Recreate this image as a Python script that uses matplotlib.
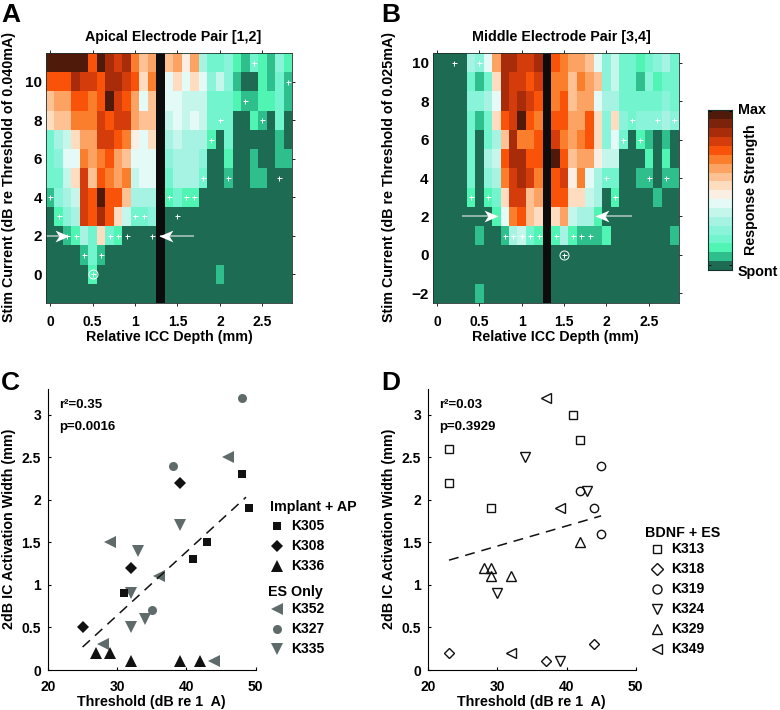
import numpy as np
import matplotlib
matplotlib.use('Agg')
import matplotlib.pyplot as plt
from matplotlib.colors import ListedColormap, BoundaryNorm
from matplotlib.lines import Line2D
from matplotlib.path import Path

plt.rcParams['font.family'] = ['Liberation Sans', 'DejaVu Sans']
plt.rcParams['font.weight'] = 'bold'

W, H = 780, 710

# response level per cell, top row first, column 13 sits under the electrode bar
heat_a = [
    [17,17,17,17,17,13,17,15,14,15,12,10,11,0,10,11,8,11,5,3,3,4,2,1,3,2,1,4,2],
    [13,13,13,15,14,14,13,15,15,14,13,9,12,0,7,9,7,9,7,4,6,4,1,0,0,2,1,3,1],
    [10,11,11,13,13,12,13,17,14,13,11,7,10,0,7,7,6,6,6,3,3,3,2,1,1,2,2,3,1],
    [9,10,10,12,12,12,14,13,14,14,11,10,10,0,6,7,6,7,6,3,3,3,0,0,2,1,0,3,0],
    [3,5,6,9,11,11,14,14,13,12,8,7,9,0,5,6,5,5,5,2,0,3,0,0,0,0,0,1,0],
    [3,4,7,7,12,11,12,13,11,10,7,7,7,0,4,5,5,5,4,0,0,2,0,0,1,0,0,1,1],
    [3,3,6,9,14,10,13,12,11,12,6,7,7,0,3,5,5,5,3,0,0,1,0,0,1,1,0,0,0],
    [1,4,5,6,14,13,17,13,13,10,5,5,5,0,2,3,2,2,0,0,0,0,0,0,0,0,0,0,0],
    [0,2,4,5,14,13,15,13,9,6,3,3,4,0,0,0,0,0,0,0,0,0,0,0,0,0,0,0,0],
    [0,0,1,2,5,3,9,3,2,0,0,0,0,0,0,0,0,0,0,0,0,0,0,0,0,0,0,0,0],
    [0,0,0,0,1,3,1,0,0,0,0,0,0,0,0,0,0,0,0,0,0,0,0,0,0,0,0,0,0],
    [0,0,0,0,0,2,0,0,0,0,0,0,0,0,0,0,0,0,0,0,1,0,0,0,0,0,0,0,0],
    [0,0,0,0,0,0,0,0,0,0,0,0,0,0,0,0,0,0,0,0,0,0,0,0,0,0,0,0,0],
]
heat_b = [
    [0,0,0,0,5,4,7,11,15,15,14,14,15,0,13,12,11,11,10,7,4,6,3,3,2,3,4,5,3],
    [0,0,0,0,3,1,3,9,15,14,14,13,14,0,12,12,10,12,11,10,4,6,3,3,1,4,2,3,3],
    [0,0,0,0,4,4,5,7,15,14,15,14,13,0,12,13,10,11,11,7,5,5,3,3,3,3,3,4,3],
    [0,0,0,0,3,1,3,9,13,14,17,13,12,0,13,13,11,11,13,9,4,9,4,3,4,4,4,5,4],
    [0,0,0,0,3,0,3,5,10,15,12,12,13,0,14,12,11,12,13,9,4,7,3,0,2,1,0,1,0],
    [0,0,0,0,3,0,5,6,13,15,15,13,13,0,17,13,10,11,11,8,6,6,0,0,0,2,0,2,0],
    [0,0,0,0,3,0,4,5,12,14,15,14,12,0,13,14,8,12,7,5,3,3,0,0,1,1,0,1,1],
    [0,0,0,0,2,0,2,3,9,14,14,10,11,0,13,13,9,9,6,5,0,2,0,0,0,0,1,0,0],
    [0,0,0,0,0,0,0,2,7,12,13,10,9,0,9,11,6,5,5,2,0,0,0,0,0,0,0,0,0],
    [0,0,0,0,0,1,0,0,1,5,6,3,2,0,2,5,2,1,1,1,2,0,0,0,0,0,0,0,1],
    [0,0,0,0,0,0,0,0,0,0,0,0,0,0,0,0,0,0,0,0,0,0,0,0,0,0,0,0,0],
    [0,0,0,0,0,0,0,0,0,0,0,0,0,0,0,0,0,0,0,0,0,0,0,0,0,0,0,0,0],
    [0,0,0,0,0,1,0,0,0,0,0,0,0,0,0,0,0,0,0,0,0,0,0,0,0,0,0,0,0],
]
rows_a = [11,10,9,8,7,6,5,4,3,2,1,0,-1]
rows_b = [10,9,8,7,6,5,4,3,2,1,0,-1,-2]

plus_a_x = [2.4,2.8,2.3,2.0,2.5,1.9,1.8,2.1,2.7,0,1.4,1.6,1.7,0.1,1.0,1.1,1.5,0.2,0.3,0.7,0.8,0.9,1.2,0.4,0.6,0.5]
plus_a_y = [11,10,9,8,8,7,5,5,5,4,4,4,4,3,3,3,3,2,2,2,2,2,2,1,1,0]
plus_b_x = [0.2,0.5,2.3,2.6,2.8,2.2,2.4,2.0,2.5,2.7,0.4,0.6,2.1,0.8,0.9,1.0,1.1,1.2,1.4,1.6,1.7,1.8,1.5]
plus_b_y = [10,10,7,7,7,6,6,4,4,4,3,3,3,1,1,1,1,1,1,1,1,1,0]

level_colors = ['#1c6b52','#2fbf8c','#50f5b4','#72f5cf','#8af4da','#a6f3e3','#c4f6ec','#e4faf6',
                '#fbeee2','#fedcbf','#fdc193','#fca363','#fb7e2c','#f9530a','#d43c0c','#a82c0a',
                '#7d230a','#4f1a0a']

k305_x, k305_y = [31,41,43,48,49], [0.9,1.3,1.5,2.3,1.9]
k308_x, k308_y = [25,32,39], [0.5,1.2,2.2]
k336_x, k336_y = [27,29,32,39,42], [0.2,0.2,0.1,0.1,0.1]
k352_x, k352_y = [29,36,46,28,44], [1.5,1.1,2.5,0.3,0.1]
k327_x, k327_y = [48,38,35], [3.2,2.4,0.7]
k335_x, k335_y = [39,33,32,32,34], [1.7,1.4,0.9,0.5,0.6]
fit_c_x, fit_c_y = [25,48.6], [0.27,2.03]

k313_x, k313_y = [23,23,29,41,42], [2.6,2.2,1.9,3.0,2.7]
k318_x, k318_y = [23,37,44], [0.2,0.1,0.3]
k319_x, k319_y = [45,42,44,45], [2.4,2.1,1.9,1.6]
k324_x, k324_y = [34,43,30,39], [2.5,2.1,0.9,0.1]
k329_x, k329_y = [42,28,29,29,32], [1.5,1.2,1.2,1.1,1.1]
k349_x, k349_y = [37,39,32], [3.2,1.9,0.2]
fit_d_x, fit_d_y = [23,45], [1.29,1.81]

GRAY = '#5f6b6b'
BLACK = '#111111'
TICK = 10
LABEL = 10.3

fig = plt.figure(figsize=(W / 100, H / 100), dpi=100)


def box(x0, y0, x1, y1):
    # pixel box in the picture (y from the top) to figure fractions
    return [x0 / W, 1 - y1 / H, (x1 - x0) / W, (y1 - y0) / H]


def ftext(x, y, s, **kw):
    kw.setdefault('va', 'center')
    kw.setdefault('ha', 'left')
    kw.setdefault('fontsize', LABEL)
    fig.text(x / W, 1 - y / H, s, **kw)


cmap = ListedColormap(level_colors)
norm = BoundaryNorm(np.arange(-0.5, 18.5), cmap.N)
head_r = Path([(-1, 0.85), (1, 0), (-1, -0.85), (-0.45, 0), (-1, 0.85)])
head_l = Path([(1, 0.85), (-1, 0), (1, -0.85), (0.45, 0), (1, 0.85)])


def heatmap(pos, data, rows, px, py, yticks, arrows, circ):
    ax = fig.add_axes(box(*pos))
    ax.pcolormesh(np.arange(-0.05, 2.86, 0.1), np.arange(rows[-1] - 0.5, rows[0] + 1), np.array(data)[::-1],
                  cmap=cmap, norm=norm)
    ax.axvspan(1.25, 1.35, color='#0c0c0c', lw=0)
    ax.plot(px, py, '+', color='white', ms=3.6, mew=0.7)
    ax.plot(circ[0], circ[1], 'o', mfc='none', mec='white', ms=6.5, mew=0.7)
    for tail, tip, y in arrows:
        ax.plot([tail, tip], [y, y], color='#b5c8c0', lw=1.1, solid_capstyle='butt')
        ax.plot(tip - 0.08 if tip > tail else tip + 0.08, y, marker=head_r if tip > tail else head_l,
                color='white', ms=10, mew=0)
    ax.set_xlim(-0.05, 2.85)
    ax.set_ylim(rows[-1] - 0.5, rows[0] + 0.5)
    ax.set_xticks([0, 0.5, 1, 1.5, 2, 2.5])
    ax.set_xticklabels(['0', '0.5', '1', '1.5', '2', '2.5'])
    ax.set_yticks(yticks)
    ax.set_yticklabels([str(t).replace('-', '\u2212') for t in yticks])
    ax.tick_params(axis='x', top=True, length=2, width=0.6, labelsize=TICK, pad=7)
    ax.tick_params(axis='y', right=True, left=False, length=2, width=0.6, labelsize=11, pad=1)
    for s in ax.spines.values():
        s.set_linewidth(0.6)
        s.set_color('#20302a')
    return ax


heatmap((46, 53, 292, 303), heat_a, rows_a, plus_a_x, plus_a_y, [0, 2, 4, 6, 8, 10],
        [(-0.05, 0.215, 2), (1.69, 1.29, 2)], (0.5, 0))
heatmap((432.7, 53, 678.5, 303), heat_b, rows_b, plus_b_x, plus_b_y, [-2, 0, 2, 4, 6, 8, 10],
        [(0.3, 0.72, 2), (2.3, 1.87, 2)], (1.5, 0))

ftext(173, 37, 'Apical Electrode Pair [1,2]', ha='center')
ftext(561, 37, 'Middle Electrode Pair [3,4]', ha='center')
ftext(169, 337, 'Relative ICC Depth (mm)', ha='center')
ftext(555, 337, 'Relative ICC Depth (mm)', ha='center')
ftext(9, 177, 'Stim Current (dB re Threshold of 0.040mA)', ha='center', rotation=90)
ftext(389, 177, 'Stim Current (dB re Threshold of 0.025mA)', ha='center', rotation=90)

for x, y, s in [(1, 15, 'A'), (381, 15, 'B'), (1, 383, 'C'), (381, 383, 'D')]:
    ftext(x, y, s, fontsize=19)

# colour scale
cax = fig.add_axes(box(708, 110.5, 732, 270))
cax.pcolormesh([0, 1], np.arange(-0.5, 18.5), np.arange(18).reshape(-1, 1), cmap=cmap, norm=norm)
cax.set_xticks([])
cax.set_yticks([0.1, 17.4])
cax.set_yticklabels([])
cax.tick_params(axis='y', direction='in', left=True, right=True, length=2, width=0.6)
for s in cax.spines.values():
    s.set_linewidth(0.8)
    s.set_color('#15302a')
ftext(738, 110, 'Max')
ftext(738, 272, 'Spont')
ftext(751, 190, 'Response Strength', ha='center', rotation=90)


def scatter_panel(left, right, series, fit_x, fit_y, r2, p):
    ax = fig.add_axes(box(left, 389, right, 670))
    for x, y, marker, color, filled, ms in series:
        ax.plot(x, y, marker, mfc=color if filled else 'none', mec=color, mew=0 if filled else 1.0,
                ms=ms, ls='none', clip_on=False)
    ax.plot(fit_x, fit_y, color=BLACK, lw=1.1, dashes=(6.5, 4.5))
    ax.set_xlim(20, 50)
    ax.set_ylim(0, 3.3)
    ax.set_xticks([20, 30, 40, 50])
    ax.set_yticks([0, 0.5, 1, 1.5, 2, 2.5, 3])
    ax.set_yticklabels(['0', '0.5', '1', '1.5', '2', '2.5', '3'])
    ax.tick_params(direction='in', length=2.5, width=0.8, labelsize=TICK, pad=5)
    ax.tick_params(axis='x', pad=7)
    ax.spines['top'].set_visible(False)
    ax.spines['right'].set_visible(False)
    ftext(left + 11, 405, r2, fontsize=9.5)
    ftext(left + 11, 427, p, fontsize=9.5)
    ftext((left + right) / 2 - 1, 702, 'Threshold (dB re 1  A)', ha='center')
    ftext(left - 39, 529, '2dB IC Activation Width (mm)', ha='center', rotation=90)


scatter_panel(48, 255.7, [
    (k352_x, k352_y, '<', GRAY, True, 8),
    (k327_x, k327_y, 'o', GRAY, True, 6.5),
    (k335_x, k335_y, 'v', GRAY, True, 8),
    (k305_x, k305_y, 's', BLACK, True, 6),
    (k308_x, k308_y, 'D', BLACK, True, 6.5),
    (k336_x, k336_y, '^', BLACK, True, 8),
], fit_c_x, fit_c_y, 'r\u00b2=0.35', 'p=0.0016')

scatter_panel(428.3, 635.7, [
    (k313_x, k313_y, 's', BLACK, False, 5.5),
    (k318_x, k318_y, 'D', BLACK, False, 5.5),
    (k319_x, k319_y, 'o', BLACK, False, 6),
    (k324_x, k324_y, 'v', BLACK, False, 7),
    (k329_x, k329_y, '^', BLACK, False, 7),
    (k349_x, k349_y, '<', BLACK, False, 7),
], fit_d_x, fit_d_y, 'r\u00b2=0.03', 'p=0.3929')


def key(mx, tx, y, name, marker, color, filled, ms):
    fig.add_artist(Line2D([mx / W], [1 - y / H], marker=marker, mfc=color if filled else 'none', mec=color,
                          mew=0 if filled else 1.0, ms=ms, ls='none', transform=fig.transFigure))
    ftext(tx, y, name, fontsize=10)


ftext(270, 507, 'Implant + AP')
key(277, 291, 526, 'K305', 's', BLACK, True, 6)
key(277, 291, 546, 'K308', 'D', BLACK, True, 6.5)
key(277, 291, 566, 'K336', '^', BLACK, True, 8.5)
ftext(268, 592, 'ES Only')
key(277, 291, 609, 'K352', '<', GRAY, True, 8.5)
key(277, 291, 629, 'K327', 'o', GRAY, True, 6.5)
key(277, 291, 649, 'K335', 'v', GRAY, True, 8.5)

ftext(645, 533, 'BDNF + ES')
key(657, 671, 549, 'K313', 's', BLACK, False, 6)
key(657, 671, 569, 'K318', 'D', BLACK, False, 6)
key(657, 671, 589, 'K319', 'o', BLACK, False, 6.5)
key(657, 671, 609, 'K324', 'v', BLACK, False, 7.5)
key(657, 671, 629, 'K329', '^', BLACK, False, 7.5)
key(657, 671, 649, 'K349', '<', BLACK, False, 7.5)

fig.savefig('out.png', dpi=100)
